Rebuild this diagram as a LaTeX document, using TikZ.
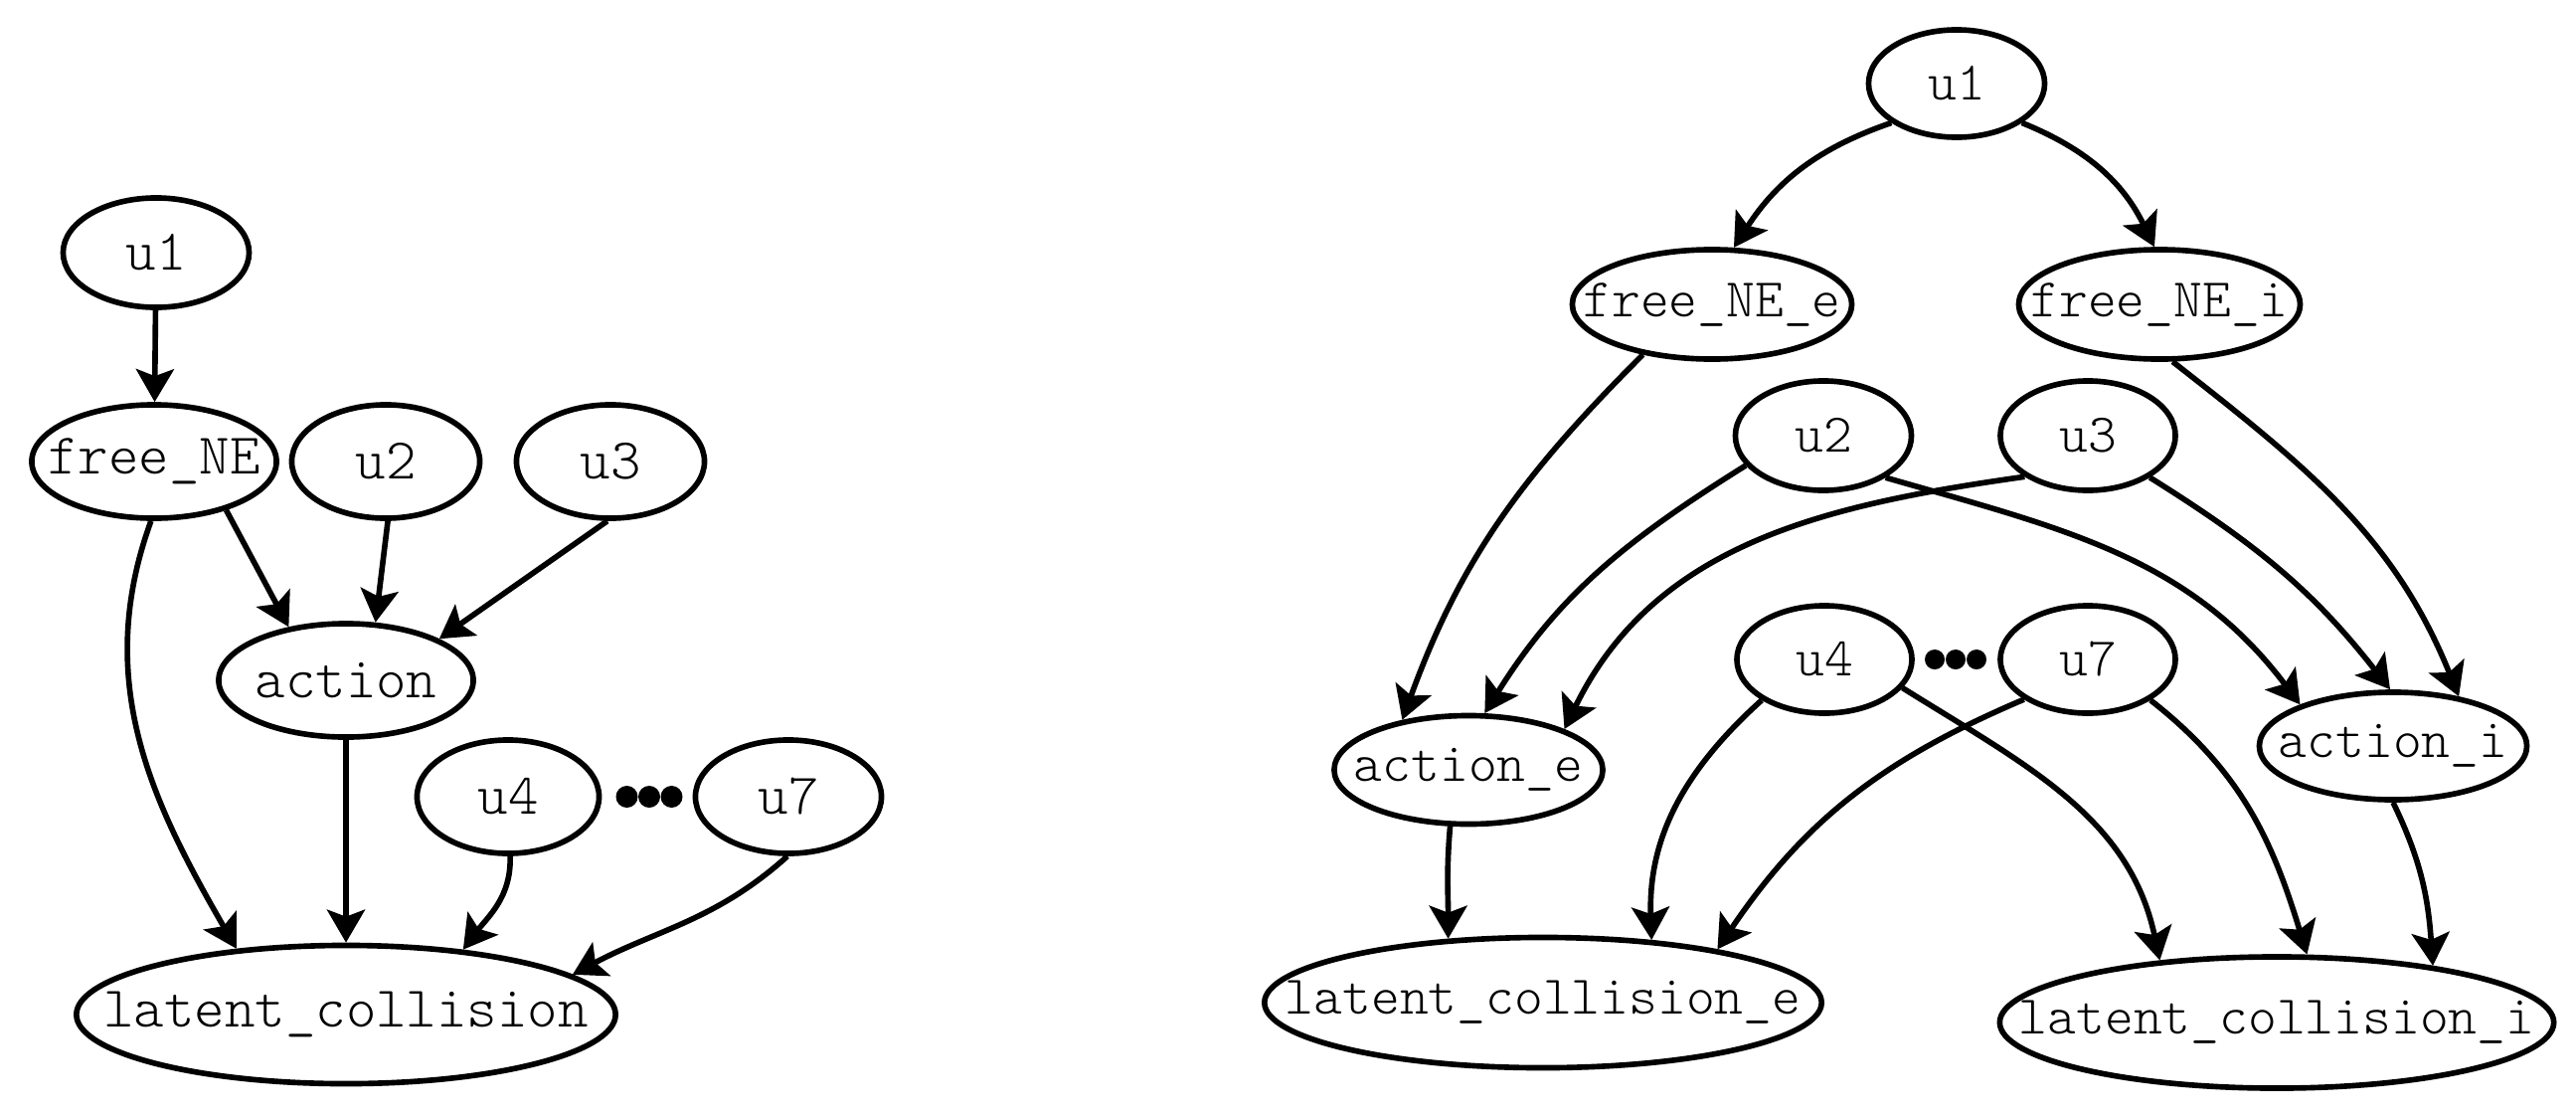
\documentclass[tikz,border=0pt]{standalone}
\usepackage{fontspec}
\setmonofont{Latin Modern Mono Light}
\usetikzlibrary{shapes.geometric,arrows.meta}

% label with no width, so that the ellipse keeps the size given to it
\newcommand{\lbl}[1]{\makebox[0pt]{#1}}

\tikzset{
  var/.style={draw, ellipse, line width=1.6pt, inner sep=0pt,
    font=\ttfamily\fontsize{16.5}{18}\selectfont},
  varR/.style={var, font=\ttfamily\fontsize{15.6}{17}\selectfont},
  edge/.style={-{Stealth[length=0.33cm,width=0.38cm,inset=0.07cm]}, line width=1.6pt},
}

\begin{document}
\begin{tikzpicture}[x=0.01cm, y=0.01cm]
    \useasboundingbox (0,0) rectangle (2591,-1121);

    % left graph
    \node[var, minimum width=1.87cm, minimum height=1.10cm] (u1L) at (157,-254) {\lbl{u1}};
    \node[var, minimum width=2.46cm, minimum height=1.14cm] (freeL) at (155,-464) {\lbl{free\_NE}};
    \node[var, minimum width=1.89cm, minimum height=1.14cm] (u2L) at (388,-464) {\lbl{u2}};
    \node[var, minimum width=1.89cm, minimum height=1.14cm] (u3L) at (614,-464) {\lbl{u3}};
    \node[var, minimum width=2.56cm, minimum height=1.14cm] (actionL) at (348,-684) {\lbl{action}};
    \node[var, minimum width=1.83cm, minimum height=1.14cm] (u4L) at (511,-801) {\lbl{u4}};
    \node[var, minimum width=1.87cm, minimum height=1.14cm] (u7L) at (793,-801) {\lbl{u7}};
    \node[var, minimum width=5.42cm, minimum height=1.39cm] (latentL) at (348,-1020) {\lbl{latent\_collision}};
    \coordinate (dotsL) at (653,-801);
    \foreach \d in {-22.5,0,22.5}
        \fill ([xshift=\d*0.01cm]dotsL) circle (0.11cm);

    \draw[edge] (u1L) -- (freeL);
    \draw[edge] (freeL.326) -- (actionL.137);
    \draw[edge] (u2L.272) -- (actionL.63);
    \draw[edge] (u3L.267) -- (actionL.24);
    \draw[edge] (actionL) -- (latentL);
    \draw[edge] (freeL.267) to[out=250,in=120] (latentL.149);
    \draw[edge] (u4L.272) to[out=272,in=53] (latentL.29);
    \draw[edge] (u7L.269) to[out=222,in=28] (latentL.10);

    % right graph
    \node[varR, minimum width=1.77cm, minimum height=1.08cm] (u1R) at (1968,-84) {\lbl{u1}};
    \node[varR, minimum width=2.81cm, minimum height=1.10cm] (freeER) at (1722,-306) {\lbl{free\_NE\_e}};
    \node[varR, minimum width=2.83cm, minimum height=1.10cm] (freeIR) at (2172,-306) {\lbl{free\_NE\_i}};
    \node[varR, minimum width=1.77cm, minimum height=1.10cm] (u2R) at (1834,-438) {\lbl{u2}};
    \node[varR, minimum width=1.76cm, minimum height=1.10cm] (u3R) at (2100,-438) {\lbl{u3}};
    \node[varR, minimum width=1.76cm, minimum height=1.08cm] (u4R) at (1835,-663) {\lbl{u4}};
    \node[varR, minimum width=1.76cm, minimum height=1.08cm] (u7R) at (2100,-663) {\lbl{u7}};
    \node[varR, minimum width=2.70cm, minimum height=1.09cm] (actionER) at (1477,-774) {\lbl{action\_e}};
    \node[varR, minimum width=2.69cm, minimum height=1.08cm] (actionIR) at (2407,-750) {\lbl{action\_i}};
    \node[varR, minimum width=5.60cm, minimum height=1.31cm] (latentER) at (1552,-1008) {\lbl{latent\_collision\_e}};
    \node[varR, minimum width=5.57cm, minimum height=1.32cm] (latentIR) at (2290,-1028) {\lbl{latent\_collision\_i}};
    \coordinate (dotsR) at (1967,-663);
    \foreach \d in {-21,0,21}
        \fill ([xshift=\d*0.01cm]dotsR) circle (0.10cm);

    \draw[edge] (u1R.211) to[out=199,in=57] (freeER.69);
    \draw[edge] (u1R.329) to[out=338,in=116] (freeIR.95);
    \draw[edge] (freeER.216) to[out=225,in=70] (actionER.143);
    \draw[edge] (u2R.201) to[out=212,in=58] (actionER.74);
    \draw[edge] (u3R.213) to[out=188,in=64] (actionER.23);
    \draw[edge] (u2R.326) to[out=344,in=127] (actionIR.156);
    \draw[edge] (u3R.326) to[out=328,in=128] (actionIR.93);
    \draw[edge] (freeIR.283) to[out=322,in=112] (actionIR.37);
    \draw[edge] (actionER.252) to[out=265,in=90] (latentER.146);
    \draw[edge] (u4R.213) to[out=222,in=92] (latentER.30);
    \draw[edge] (u7R.212) to[out=203,in=56] (latentER.17);
    \draw[edge] (u4R.340) to[out=328,in=102] (latentIR.152);
    \draw[edge] (u7R.327) to[out=322,in=107] (latentIR.66);
    \draw[edge] (actionIR.270) to[out=296,in=94] (latentIR.20);
\end{tikzpicture}
\end{document}
